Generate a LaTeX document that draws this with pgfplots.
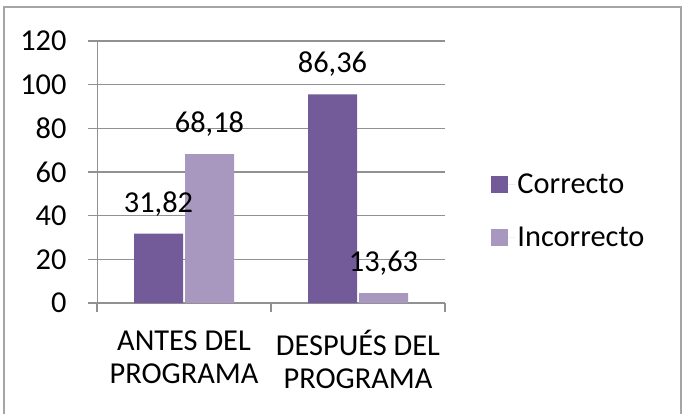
\documentclass[border=0pt]{standalone}
\usepackage{pgfplots}
\pgfplotsset{compat=1.18}
\usepackage{fontspec}
\setmainfont{Carlito}
\definecolor{corr}{RGB}{115,91,153}
\definecolor{inc}{RGB}{168,152,192}
\definecolor{gridc}{RGB}{145,145,145}
\definecolor{frame}{RGB}{165,165,165}
\begin{document}
\begin{tikzpicture}[x=1bp,y=1bp]
\useasboundingbox (0,0) rectangle (688,413);
\draw[frame, line width=2bp] (4,-2) -- (4,405.5) -- (680.5,405.5) -- (680.5,-2);
\begin{axis}[
  at={(97bp,110bp)}, anchor=south west,
  scale only axis, width=348bp, height=262bp,
  ybar, bar width=49bp, bar shift auto,
  xmin=-0.5, xmax=1.5, ymin=0, ymax=120,
  ytick={0,20,...,120},
  xtick={-0.5,0.5,1.5}, xticklabels={},
  extra x ticks={0,1},
  extra x tick labels={{ANTES DEL\\PROGRAMA},{DESPUÉS DEL\\PROGRAMA}},
  extra x tick style={major tick length=0pt, grid=none,
     xticklabel style={align=center, yshift=-24bp, font=\fontsize{30.5}{33}\selectfont}},
  tick align=outside, major tick length=9bp,
  tick style={gridc, line width=1.2bp},
  ymajorgrids, grid style={gridc, line width=1.2bp},
  axis x line*=bottom, axis y line*=left,
  axis line style={gridc, line width=1.2bp},
  y axis line style={line width=0.8bp},
  tick label style={font=\fontsize{30.5}{36}\selectfont, text=black},
  /pgf/number format/assume math mode=true,
  yticklabel style={xshift=-18bp},
  nodes near coords=\pgfplotspointmeta,
  point meta=explicit symbolic,
  every node near coord/.append style={font=\fontsize{30.5}{36}\selectfont, text=black, anchor=center, yshift=30bp},
  legend style={at={(1.133,0.353)}, anchor=west, draw=none, fill=none,
    font=\fontsize{30.5}{36}\selectfont, row sep=28bp, inner sep=0pt},
  legend cell align=left,
  legend image code/.code={\fill[#1] (0bp,-8.5bp) rectangle (17bp,8.5bp); \path (0bp,0bp) -- (24bp,0bp);},
  clip=false,
]
\addplot[draw=none, fill=corr] table[meta=lab] {
x y lab
0 31.8 31,82
1 95.5 86,36
};
\addplot[draw=none, fill=inc] table[meta=lab] {
x y lab
0 68.2 68,18
1 4.5 13,63
};
\legend{Correcto,Incorrecto}
\end{axis}
\end{tikzpicture}
\end{document}
